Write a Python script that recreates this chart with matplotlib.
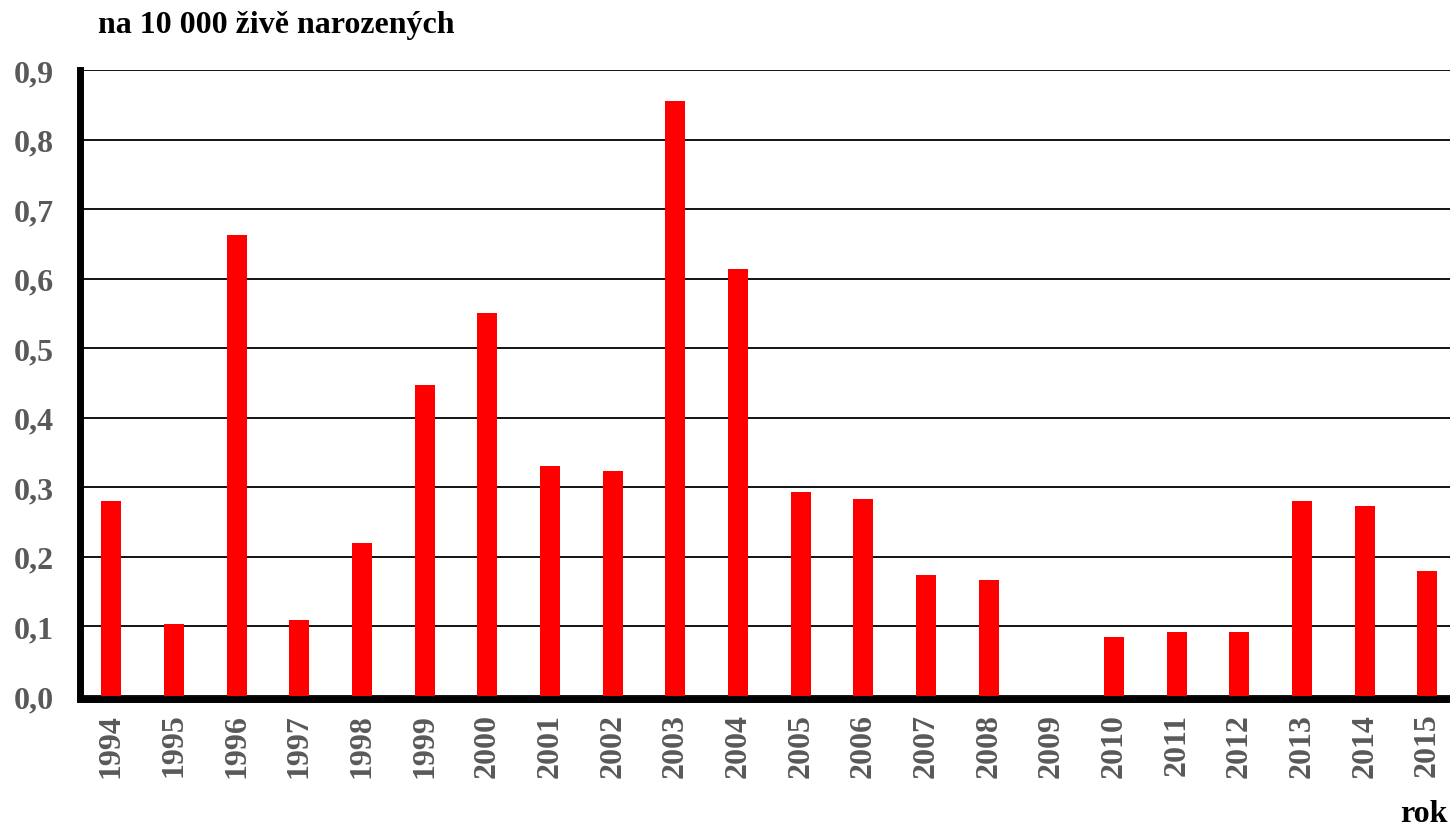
import matplotlib.pyplot as plt

years = [str(y) for y in range(1994, 2016)]
values = [0.281, 0.104, 0.663, 0.109, 0.220, 0.447, 0.550, 0.331, 0.324, 0.855, 0.614,
          0.294, 0.283, 0.174, 0.167, 0.0, 0.085, 0.092, 0.092, 0.281, 0.273, 0.180]
y_ticks = [0.0, 0.1, 0.2, 0.3, 0.4, 0.5, 0.6, 0.7, 0.8, 0.9]
y_labels = ["0,0", "0,1", "0,2", "0,3", "0,4", "0,5", "0,6", "0,7", "0,8", "0,9"]

plt.rcParams["font.family"] = ["Liberation Serif", "DejaVu Serif"]
plt.rcParams["font.weight"] = "bold"

W, H = 1450, 828
fig = plt.figure(figsize=(W / 100, H / 100), dpi=100)
# axes box in pixel terms: left 80, bottom at y=697, top at y=71
ax = fig.add_axes([80 / W, (H - 697) / H, (W - 80) / W, (697 - 71) / H])

x = list(range(len(years)))
ax.bar(x, values, width=0.32, color="#ff0000", zorder=3)

ax.set_xlim(-0.5, 21.36)
ax.set_ylim(0, 0.9)
ax.set_yticks(y_ticks, y_labels)
ax.set_xticks(x, years)
ax.tick_params(axis="both", length=0, labelsize=23, labelcolor="#595959")
ax.tick_params(axis="y", pad=19)
ax.tick_params(axis="x", pad=10, labelrotation=90)

ax.grid(axis="y", color="black", linewidth=1.3, zorder=1)
for side in ["top", "right"]:
    ax.spines[side].set_visible(False)
ax.spines["left"].set_linewidth(5)
ax.spines["bottom"].set_linewidth(5)
ax.spines["bottom"].set_position(("outward", 2))

fig.text(98 / W, 1 - 25 / H, "na 10 000 živě narozených", fontsize=23,
         fontweight="bold", va="center", ha="left")
fig.text(1448 / W, 1 - 815 / H, "rok", fontsize=23, fontweight="bold",
         va="center", ha="right")

fig.savefig("out.png", dpi=100)
